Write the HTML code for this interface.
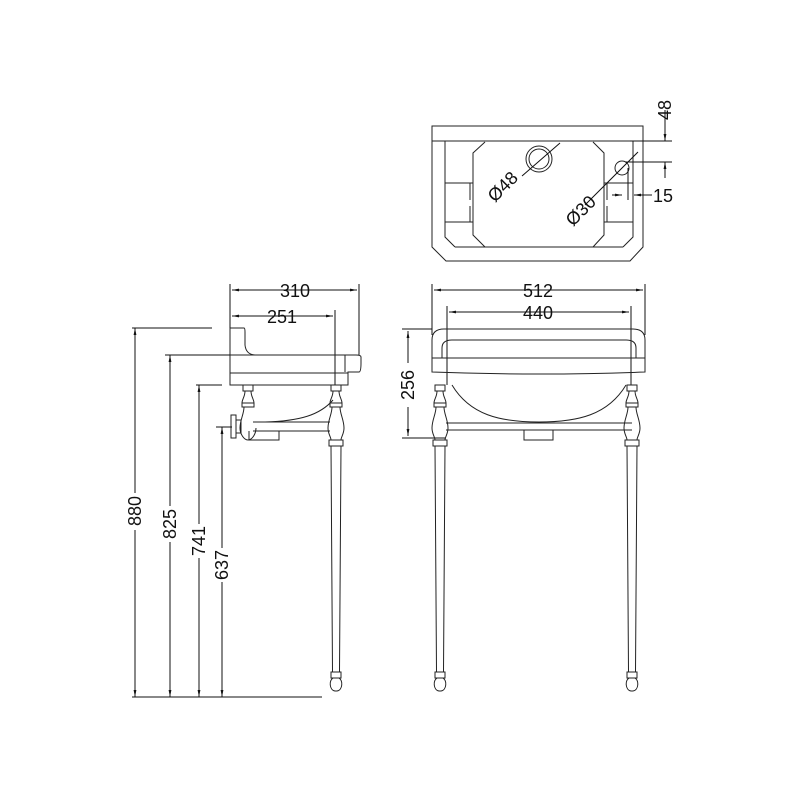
<!DOCTYPE html>
<html><head><meta charset="utf-8"><style>
html,body{margin:0;padding:0;background:#fff}
svg{display:block}
text{font-family:"Liberation Sans",sans-serif;font-size:18px;fill:#111}
</style></head><body>
<svg width="800" height="800" viewBox="0 0 800 800" xmlns="http://www.w3.org/2000/svg">
<defs>
<marker id="a" viewBox="0 0 10 10" refX="10" refY="5" markerWidth="7" markerHeight="7" orient="auto-start-reverse"><path d="M0,3 L10,5 L0,7 z" fill="#111"/></marker>
<g id="leg" fill="none" stroke="#222" stroke-width="1">
<rect x="-5" y="385" width="10" height="6"/>
<path d="M-3,391 C-3,397 -6,399 -6,403 L6,403 C6,399 3,397 3,391"/>
<rect x="-6" y="403" width="12" height="4"/>
<path d="M-4,407 C-4,414 -8,420 -8,428 C-8,434 -5,437 -5,440 L5,440 C5,437 8,434 8,428 C8,420 4,414 4,407"/>
<rect x="-7" y="440" width="14" height="6"/>
<path d="M-5,446 L-3.5,672 M5,446 L3.5,672"/>
<rect x="-5" y="672" width="10" height="6"/>
<path d="M-3,678 C-7,680 -7,690 -1,691 L1,691 C7,690 7,680 3,678"/>
</g>
</defs>
<g fill="none" stroke="#222" stroke-width="1">
<path d="M432,126 L643,126 L643,247 L630,261 L446,261 L432,247 Z"/>
<line x1="432" y1="141" x2="643" y2="141"/>
<path d="M445,141 L445,237 L455,247 M633,141 L633,237 L623,247 M455,247 L623,247"/>
<path d="M485,142 L473,153 L473,235 L485,247 M593,142 L604,153 L604,235 L593,247"/>
<path d="M445,183 L473,183 M445,222 L473,222 M470,183 L470,200 M470,206 L470,222"/>
<path d="M604,183 L633,183 M604,222 L633,222 M607,183 L607,200 M607,206 L607,222"/>
<circle cx="539" cy="159" r="13"/><circle cx="539" cy="159" r="10"/>
<line x1="522" y1="176" x2="560" y2="143" stroke="#111"/>
<circle cx="622" cy="168" r="7"/>
<line x1="585" y1="205" x2="638" y2="152" stroke="#111"/>
<line x1="630" y1="141" x2="672" y2="141" stroke="#111"/>
<line x1="625" y1="162" x2="672" y2="162" stroke="#111"/>
<line x1="665" y1="110" x2="665" y2="141" stroke="#111" marker-end="url(#a)"/>
<line x1="665" y1="178" x2="665" y2="162" stroke="#111" marker-end="url(#a)"/>
<line x1="628" y1="168" x2="628" y2="200" stroke="#111"/>
<line x1="612" y1="195" x2="622" y2="195" stroke="#111" marker-end="url(#a)"/>
<line x1="652" y1="195" x2="634" y2="195" stroke="#111" marker-end="url(#a)"/>

<line x1="230" y1="284" x2="230" y2="330" stroke="#111"/>
<line x1="359" y1="284" x2="359" y2="355" stroke="#111"/>
<line x1="335" y1="310" x2="335" y2="385" stroke="#111"/>
<line x1="232" y1="290" x2="357" y2="290" stroke="#111" marker-start="url(#a)" marker-end="url(#a)"/>
<line x1="232" y1="316" x2="333" y2="316" stroke="#111" marker-start="url(#a)" marker-end="url(#a)"/>
<path d="M230,328 L244,328 Q245,328 245,332 L245,345 Q246,355 256,355"/>
<path d="M230,328 L230,385 L348,385 L348,372 L359,372 Q361,372 361,363 L361,357 Q361,355 356,355 L230,355"/>
<line x1="230" y1="373" x2="348" y2="373"/>
<line x1="345" y1="355" x2="345" y2="372"/>
<path d="M243,385 L243,391 L253,391 L253,385 M245,391 C245,397 242,399 242,403 L254,403 C254,399 251,397 251,391 M242,403 L242,407 L254,407 L254,403 M244,407 C244,414 240,420 240,428 C240,434 244,440 248,440 C252,440 256,434 256,428"/>
<path d="M253,422 L330,422 M253,431 L330,431"/>
<path d="M249,431 L249,440 L279,440 L279,431"/>
<path d="M236,420 L241,420 L241,433 L236,433 Z M231,415 L236,415 L236,438 L231,438 Z"/>
<path d="M333,400 C320,415 300,421 265,422"/>
<use href="#leg" x="336"/>
<line x1="132" y1="328" x2="212" y2="328" stroke="#111"/>
<line x1="165" y1="355" x2="230" y2="355" stroke="#111"/>
<line x1="196" y1="385" x2="222" y2="385" stroke="#111"/>
<line x1="216" y1="427" x2="232" y2="427" stroke="#111"/>
<line x1="132" y1="697" x2="322" y2="697" stroke="#111"/>
<line x1="135" y1="328" x2="135" y2="493" stroke="#111" marker-start="url(#a)"/>
<line x1="135" y1="530" x2="135" y2="697" stroke="#111" marker-end="url(#a)"/>
<line x1="170" y1="355" x2="170" y2="506" stroke="#111" marker-start="url(#a)"/>
<line x1="170" y1="542" x2="170" y2="697" stroke="#111" marker-end="url(#a)"/>
<line x1="199" y1="385" x2="199" y2="524" stroke="#111" marker-start="url(#a)"/>
<line x1="199" y1="558" x2="199" y2="697" stroke="#111" marker-end="url(#a)"/>
<line x1="222" y1="427" x2="222" y2="548" stroke="#111" marker-start="url(#a)"/>
<line x1="222" y1="582" x2="222" y2="697" stroke="#111" marker-end="url(#a)"/>

<line x1="432" y1="284" x2="432" y2="335" stroke="#111"/>
<line x1="645" y1="284" x2="645" y2="335" stroke="#111"/>
<line x1="447" y1="306" x2="447" y2="385" stroke="#111"/>
<line x1="631" y1="306" x2="631" y2="385" stroke="#111"/>
<line x1="434" y1="290" x2="643" y2="290" stroke="#111" marker-start="url(#a)" marker-end="url(#a)"/>
<line x1="449" y1="312" x2="629" y2="312" stroke="#111" marker-start="url(#a)" marker-end="url(#a)"/>
<path d="M432,372 L432,340 Q432,329 444,329 L633,329 Q645,329 645,340 L645,372 Q540,376 432,372 Z"/>
<path d="M442,358 L442,348 Q442,340 452,340 L626,340 Q636,340 636,348 L636,358"/>
<line x1="432" y1="358" x2="645" y2="358"/>
<path d="M452,385 C470,415 500,422 539,422 C578,422 608,415 626,385"/>
<path d="M446,423 L632,423 M446,430 L632,430"/>
<path d="M524,430 L524,440 L553,440 L553,430"/>
<line x1="402" y1="329" x2="432" y2="329" stroke="#111"/>
<line x1="402" y1="438" x2="446" y2="438" stroke="#111"/>
<line x1="408" y1="331" x2="408" y2="363" stroke="#111" marker-start="url(#a)"/>
<line x1="408" y1="407" x2="408" y2="436" stroke="#111" marker-end="url(#a)"/>
<use href="#leg" x="440"/>
<use href="#leg" x="632"/>
</g>
<text x="295" y="297" text-anchor="middle">310</text>
<text x="282" y="323" text-anchor="middle">251</text>
<text x="538" y="297" text-anchor="middle">512</text>
<text x="538" y="319" text-anchor="middle">440</text>
<text transform="translate(414,385) rotate(-90)" text-anchor="middle">256</text>
<text transform="translate(141,511) rotate(-90)" text-anchor="middle">880</text>
<text transform="translate(176,524) rotate(-90)" text-anchor="middle">825</text>
<text transform="translate(205,541) rotate(-90)" text-anchor="middle">741</text>
<text transform="translate(228,565) rotate(-90)" text-anchor="middle">637</text>
<text transform="translate(671,110) rotate(-90)" text-anchor="middle">48</text>
<text x="653" y="202">15</text>
<text transform="translate(507,191) rotate(-45)" text-anchor="middle">Ø48</text>
<text transform="translate(585,215) rotate(-45)" text-anchor="middle">Ø30</text>
</svg>
</body></html>
